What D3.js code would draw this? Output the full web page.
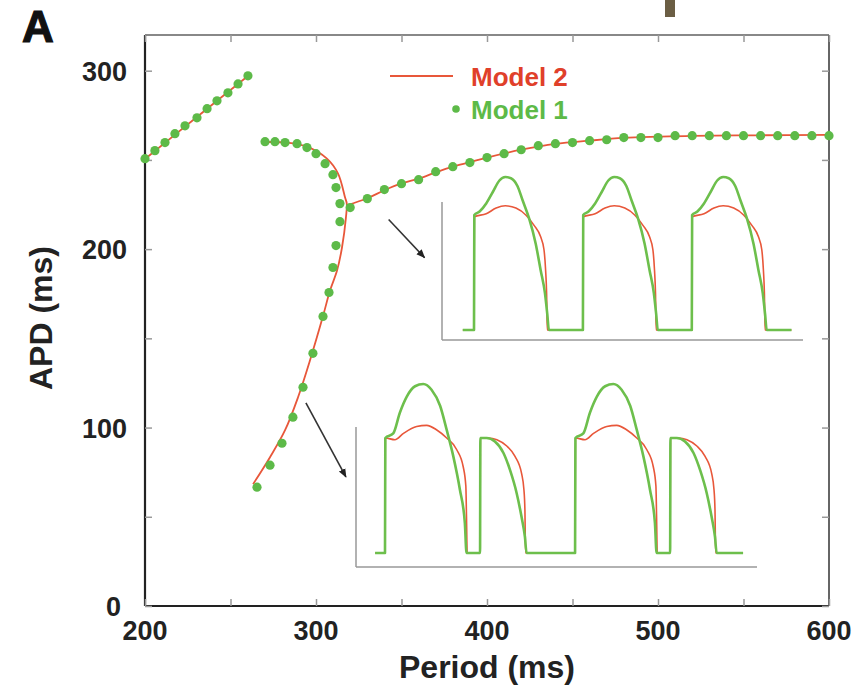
<!DOCTYPE html>
<html>
<head>
<meta charset="utf-8">
<script src="https://cdn.jsdelivr.net/npm/d3@7"></script>
<style>
  html, body { margin: 0; padding: 0; background: #fff; }
  svg { display: block; }
  text { font-family: "Liberation Sans", Arial, Helvetica, sans-serif; font-weight: bold; }
</style>
</head>
<body>
<svg id="chart" width="858" height="688"></svg>
<script>
// ---------------- DATA ----------------
// Axis ticks
const xTickValues = [200, 250, 300, 350, 400, 450, 500, 550, 600];
const xTickLabels = [200, 300, 400, 500, 600];
const yTickValues = [0, 50, 100, 150, 200, 250, 300];
const yTickLabels = [100, 200, 300];

// Model 1 (dots): [period ms, APD ms]
const model1BranchA = [
  [200, 250.7], [205.8, 255.2], [211.7, 259.7], [217.5, 264.7], [223.4, 269.1],
  [230.4, 273.6], [236.3, 278.7], [242.1, 283.1], [248.5, 287.6], [254.4, 292.6], [260.2, 297.1]
];
const model1BranchB = [
  [270.2, 260.2], [276.0, 260.2], [281.9, 259.7], [288.9, 259.1], [294.7, 256.9],
  [300.0, 253.5], [305.3, 247.9], [309.9, 241.7], [311.7, 234.5], [314.0, 225.5],
  [314.0, 215.4], [311.7, 202.0], [309.9, 189.7], [307.6, 175.7], [304.1, 162.3],
  [298.2, 141.6], [292.4, 122.6], [286.5, 105.8], [280.1, 91.2], [273.1, 78.9], [265.5, 66.6]
];
const model1BranchCPeriods = [320, 330, 340, 350, 360, 370, 380, 390, 400, 410, 420, 430, 440, 450, 460,
  470, 480, 490, 500, 510, 520, 530, 540, 550, 560, 570, 580, 590, 600];
const model1BranchCAPD = [223.3, 228.3, 233.4, 236.7, 238.9, 243.4, 246.2, 248.5, 251.3, 253.5, 255.7,
  258.0, 259.1, 259.7, 260.8, 261.3, 262.5, 262.5, 262.5, 263.6, 263.6, 263.6, 263.6, 263.6, 263.6,
  263.6, 263.6, 263.6, 263.6];

// Model 2 (line)
const model2BranchA = [[200, 250.5], [230, 273.8], [260.2, 297.0]];
const model2BranchB = [
  [269.5, 260.0], [283.0, 259.7], [294.7, 257.4], [306.4, 250.7], [312.9, 242.3], [317.0, 228.9],
  [318.0, 225.5], [317.5, 217.7], [315.2, 200.9], [312.3, 188.0], [308.2, 176.8], [304.1, 162.5],
  [296.5, 137.7], [289.5, 117.0], [281.9, 98.5], [273.1, 83.4], [263.2, 68.3]
];
const model2BranchC = [
  [318, 224.5], [330, 228.5], [340, 233.0], [350, 236.8], [360, 239.5], [370, 243.0], [380, 246.2],
  [390, 248.7], [400, 251.3], [420, 255.7], [440, 259.0], [460, 260.8], [480, 262.3], [500, 263.0],
  [520, 263.5], [560, 263.8], [600, 264.0]
];

// Inset action potential shapes: [time after upstroke (ms), normalised voltage]
const m1BeatSteady = [[1, 1.0], [17, 1.03], [37, 1.10], [57, 1.20], [77, 1.30], [95, 1.33], [112, 1.32],
  [132, 1.25], [147, 1.13], [167, 0.97], [187, 0.75], [202, 0.52], [215, 0.32], [222, 0.14], [227, 0]];
const m2BeatSteady = [[1, 0.985], [37, 1.01], [67, 1.06], [95, 1.08], [127, 1.06], [157, 1.0], [182, 0.91],
  [202, 0.81], [212, 0.70], [217, 0.52], [220, 0.32], [222, 0]];
const m1BeatLong = [[1, 1.0], [25, 1.04], [45, 1.22], [66, 1.36], [91, 1.45], [116, 1.47], [141, 1.42],
  [167, 1.28], [187, 1.07], [207, 0.84], [227, 0.55], [242, 0.26], [247, 0]];
const m2BeatLong = [[1, 1.0], [30, 0.985], [56, 1.04], [96, 1.10], [126, 1.11], [157, 1.07], [187, 1.0],
  [217, 0.90], [237, 0.75], [245, 0.58], [247, 0.31], [249, 0]];
const m1BeatShort = [[1, 1.0], [20, 1.0], [45, 0.97], [71, 0.87], [91, 0.72], [111, 0.52], [126, 0.31],
  [136, 0.14], [141, 0]];
const m2BeatShort = [[1, 1.0], [25, 1.0], [51, 0.985], [81, 0.93], [106, 0.84], [126, 0.69], [133, 0.55],
  [136, 0.37], [138, 0]];

// Inset pacing
const inset1Period = 330, inset1Beats = ["S", "S", "S"], inset1Span = [-34, 962];
const inset2Period = 288, inset2Beats = ["L", "S", "L", "S"], inset2Span = [-30, 1085];

// Colours
const greenC = "#5dba48";
const redC = "#e8573a";

// ---------------- DRAWING ----------------
const svg = d3.select("#chart");

const x = d3.scaleLinear().domain([200, 600]).range([145, 829]);
const y = d3.scaleLinear().domain([0, 320]).range([606, 35]);

// artifact bar at top
svg.append("rect").attr("x", 665).attr("y", 0).attr("width", 10).attr("height", 17).attr("fill", "#6b5e44");

// Panel label
svg.append("text").attr("x", 22).attr("y", 42).attr("font-size", 44).attr("font-weight", 900)
  .attr("fill", "#111").attr("stroke", "#111").attr("stroke-width", 1.2).text("A");

// Frame
const frame = svg.append("g");
frame.append("line").attr("x1", x(200)).attr("x2", x(600)).attr("y1", y(320)).attr("y2", y(320))
  .attr("stroke", "#888").attr("stroke-width", 2);
frame.append("line").attr("x1", x(600)).attr("x2", x(600)).attr("y1", y(320)).attr("y2", y(0))
  .attr("stroke", "#666").attr("stroke-width", 2);
frame.append("line").attr("x1", x(200)).attr("x2", x(600)).attr("y1", y(0)).attr("y2", y(0))
  .attr("stroke", "#222").attr("stroke-width", 2.2);
frame.append("line").attr("x1", x(200)).attr("x2", x(200)).attr("y1", y(320)).attr("y2", y(0))
  .attr("stroke", "#222").attr("stroke-width", 2.2);

// Inward ticks on all sides via d3 axes
const tl = 7;
const axB = svg.append("g").attr("transform", `translate(0,${y(0)})`)
  .call(d3.axisTop(x).tickValues(xTickValues).tickSize(tl).tickFormat(""));
const axT = svg.append("g").attr("transform", `translate(0,${y(320)})`)
  .call(d3.axisBottom(x).tickValues(xTickValues).tickSize(tl).tickFormat(""));
const axL = svg.append("g").attr("transform", `translate(${x(200)},0)`)
  .call(d3.axisRight(y).tickValues(yTickValues).tickSize(tl).tickFormat(""));
const axR = svg.append("g").attr("transform", `translate(${x(600)},0)`)
  .call(d3.axisLeft(y).tickValues(yTickValues).tickSize(tl).tickFormat(""));
[axB, axT, axL, axR].forEach(g => {
  g.select(".domain").remove();
  g.selectAll(".tick line").attr("stroke", "#999").attr("stroke-width", 1.5);
});

// Tick labels
svg.append("g").selectAll("text").data(xTickLabels).join("text")
  .attr("x", d => x(d)).attr("y", 640).attr("text-anchor", "middle")
  .attr("font-size", 27).attr("fill", "#222").text(d => d);
svg.append("g").selectAll("text").data(yTickLabels).join("text")
  .attr("x", 127).attr("y", d => y(d) + 10).attr("text-anchor", "end")
  .attr("font-size", 27).attr("fill", "#222").text(d => d);
svg.append("text").attr("x", 121).attr("y", 616).attr("text-anchor", "end")
  .attr("font-size", 27).attr("fill", "#222").text(0);

// Axis titles
svg.append("text").attr("x", 487).attr("y", 678).attr("text-anchor", "middle")
  .attr("font-size", 32).attr("fill", "#222").text("Period (ms)");
svg.append("text").attr("transform", `translate(52,318) rotate(-90)`).attr("text-anchor", "middle")
  .attr("font-size", 32).attr("fill", "#222").text("APD (ms)");

// Model 2 lines
const line = d3.line().x(d => x(d[0])).y(d => y(d[1])).curve(d3.curveCatmullRom.alpha(0.5));
[model2BranchA, model2BranchB, model2BranchC].forEach(seg => {
  svg.append("path").attr("d", line(seg)).attr("fill", "none").attr("stroke", redC).attr("stroke-width", 1.8);
});

// Model 1 dots
const model1BranchC = model1BranchCPeriods.map((p, i) => [p, model1BranchCAPD[i]]);
const allDots = model1BranchA.concat(model1BranchB, model1BranchC);
svg.append("g").selectAll("circle").data(allDots).join("circle")
  .attr("cx", d => x(d[0])).attr("cy", d => y(d[1])).attr("r", 4.6).attr("fill", greenC);

// Legend
svg.append("line").attr("x1", 390).attr("x2", 453).attr("y1", 76).attr("y2", 76)
  .attr("stroke", redC).attr("stroke-width", 2.2);
svg.append("text").attr("x", 471).attr("y", 86).attr("font-size", 26).attr("fill", "#e0402a").text("Model 2");
svg.append("circle").attr("cx", 456).attr("cy", 109).attr("r", 3.8).attr("fill", greenC);
svg.append("text").attr("x", 471).attr("y", 119).attr("font-size", 26).attr("fill", greenC).text("Model 1");

// Arrows
const defs = svg.append("defs");
defs.append("marker").attr("id", "arr").attr("viewBox", "0 0 10 10").attr("refX", 9).attr("refY", 5)
  .attr("markerWidth", 9).attr("markerHeight", 9).attr("orient", "auto-start-reverse")
  .attr("markerUnits", "userSpaceOnUse")
  .append("path").attr("d", "M0,1 L10,5 L0,9 z").attr("fill", "#222");
function arrow(p0, p1) {
  svg.append("line").attr("x1", x(p0[0])).attr("y1", y(p0[1])).attr("x2", x(p1[0])).attr("y2", y(p1[1]))
    .attr("stroke", "#333").attr("stroke-width", 1.6).attr("marker-end", "url(#arr)");
}
arrow([342.5, 216.6], [363.5, 195.2]);
arrow([294.1, 113.8], [317.5, 72.3]);

// Insets
function buildTrace(beats, period, span, shapes) {
  const pts = [[span[0], 0]];
  beats.forEach((b, k) => {
    const t0 = k * period;
    pts.push([t0, 0]);
    shapes[b].forEach(p => pts.push([t0 + p[0], p[1]]));
  });
  pts.push([span[1], 0]);
  return pts;
}
function drawInset(cfg) {
  const g = svg.append("g");
  const ix = d3.scaleLinear().domain([0, cfg.period]).range([cfg.x0, cfg.x0 + cfg.period * 0.33]);
  const iy = d3.scaleLinear().domain([0, 1]).range([cfg.base, cfg.base - 115]);
  g.append("line").attr("x1", cfg.ax[0]).attr("x2", cfg.ax[0]).attr("y1", cfg.ax[1]).attr("y2", cfg.ax[2])
    .attr("stroke", "#999").attr("stroke-width", 1.5);
  g.append("line").attr("x1", cfg.ax[0]).attr("x2", cfg.ax[3]).attr("y1", cfg.ax[2]).attr("y2", cfg.ax[2])
    .attr("stroke", "#999").attr("stroke-width", 1.5);
  const ln = d3.line().x(d => ix(d[0])).y(d => iy(d[1])).curve(d3.curveMonotoneX);
  const red = buildTrace(cfg.beats, cfg.period, cfg.span, cfg.m2);
  const grn = buildTrace(cfg.beats, cfg.period, cfg.span, cfg.m1);
  g.append("path").attr("d", ln(red)).attr("fill", "none").attr("stroke", redC).attr("stroke-width", 1.6);
  g.append("path").attr("d", ln(grn)).attr("fill", "none").attr("stroke", "#6dbf4c").attr("stroke-width", 2.6)
    .attr("stroke-linejoin", "round");
}
drawInset({ period: inset1Period, beats: inset1Beats, span: inset1Span, x0: 474, base: 330,
  ax: [442, 202, 340, 803], m1: { S: m1BeatSteady }, m2: { S: m2BeatSteady } });
drawInset({ period: inset2Period, beats: inset2Beats, span: inset2Span, x0: 385, base: 553,
  ax: [356, 427, 567, 757], m1: { L: m1BeatLong, S: m1BeatShort }, m2: { L: m2BeatLong, S: m2BeatShort } });
</script>
</body>
</html>
